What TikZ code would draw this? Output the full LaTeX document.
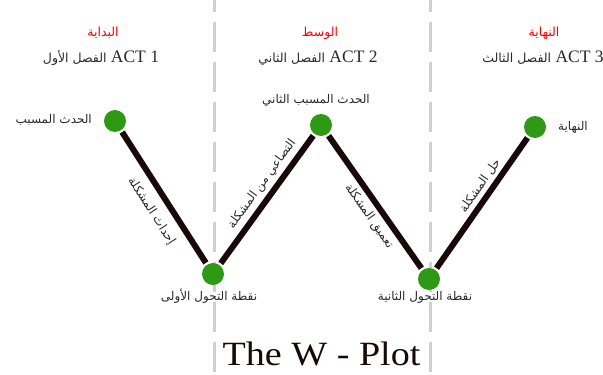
\documentclass[tikz,border=0pt]{standalone}
\usepackage{fontspec}
\setmainfont{Liberation Serif}
\newfontfamily\arabicfont[Script=Arabic]{DejaVu Sans}
\TeXXeTstate=1
\definecolor{ptgreen}{HTML}{2E9A14}
\definecolor{divgray}{HTML}{D0D0D0}
\definecolor{segblack}{HTML}{180808}
\definecolor{txt}{HTML}{2A2A2A}
\begin{document}
\begin{tikzpicture}[x=1pt,y=-1pt,
  pt/.style={circle, fill=ptgreen, minimum size=22pt, inner sep=0pt},
  seg/.style={line width=6pt, draw=segblack, shorten <=2pt, shorten >=2pt},
  lab/.style={font=\arabicfont\fontsize{12}{14}\selectfont, text=txt, inner sep=1pt},
  head/.style={font=\arabicfont\fontsize{12.5}{14}\selectfont, text=red},
  act/.style={font=\fontsize{17.5}{20}\selectfont, text=txt},
  divider/.style={draw=divgray, line width=3pt, dash pattern=on 30pt off 10pt}]
\useasboundingbox (0,0) rectangle (603,375);
\fill[white] (0,0) rectangle (603,375);
% dividers
\coordinate (d1t) at (214,-18); \coordinate (d1b) at (214,380);
\coordinate (d2t) at (430,-18); \coordinate (d2b) at (430,380);
\draw[divider] (d1t) -- (d1b);
\draw[divider] (d2t) -- (d2b);
% headings
\node[head] (h1) at (103,33) {\beginR البداية\endR};
\node[head] (h2) at (320,33) {\beginR الوسط\endR};
\node[head] (h3) at (544,33) {\beginR النهاية\endR};
\node[act] (a1) at (101,58) {{\arabicfont\fontsize{12.5}{14}\selectfont\beginR الفصل الأول\endR} ACT 1};
\node[act] (a2) at (318,58) {{\arabicfont\fontsize{12.5}{14}\selectfont\beginR الفصل الثاني\endR} ACT 2};
\node[act] (a3) at (543,58) {{\arabicfont\fontsize{12.5}{14}\selectfont\beginR الفصل الثالث\endR} ACT 3};
% points
\node[pt] (n1) at (115,121) {};
\node[pt] (n2) at (213,274) {};
\node[pt] (n3) at (321,125) {};
\node[pt] (n4) at (429,279) {};
\node[pt] (n5) at (535,127) {};
% point labels
\node[lab, anchor=east] (l1) at (93,120) {\beginR الحدث المسبب\endR};
\node[lab] (l3) at (316,100) {\beginR الحدث المسبب الثاني\endR};
\node[lab, anchor=west] (l5) at (557,127) {\beginR النهاية\endR};
\node[lab] (l2) at (209,296) {\beginR نقطة التحول الأولى\endR};
\node[lab] (l4) at (425,297) {\beginR نقطة التحول الثانية\endR};
% segments
\draw[seg] (n1) -- node[lab, pos=0.53, sloped, below=8pt] {\beginR إحداث المشكلة\endR} (n2);
\draw[seg] (n2) -- node[lab, pos=0.56, sloped, above=3pt] {\beginR التصاعي من المشكلة\endR} (n3);
\draw[seg] (n3) -- node[lab, pos=0.55, sloped, below=3pt] {\beginR تعميق المشكلة\endR} (n4);
\draw[seg] (n4) -- node[lab, pos=0.58, sloped, above=2pt] {\beginR حل المشكلة\endR} (n5);
% title
\node[font=\fontsize{34}{38}\selectfont, text=segblack, anchor=base, xscale=1.12, inner sep=0pt] (title) at (321.5,365) {The W - Plot};
\end{tikzpicture}
\end{document}
